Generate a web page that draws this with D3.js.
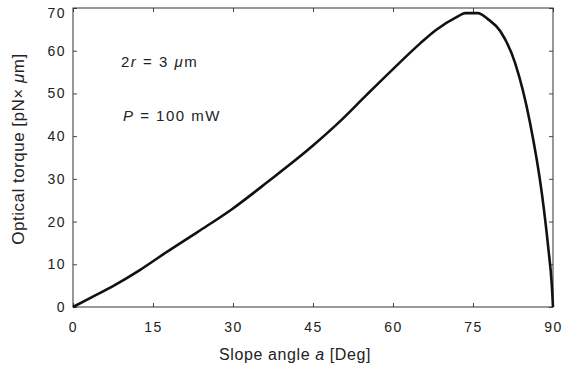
<!DOCTYPE html>
<html>
<head>
<meta charset="utf-8">
<script src="https://cdn.jsdelivr.net/npm/d3@7"></script>
<style>
  body { margin: 0; background: #fff; }
  svg text { font-family: "Liberation Sans", Arial, sans-serif; fill: #222; }
</style>
</head>
<body>
<svg width="563" height="370"></svg>
<script>
// slope angle (deg) and optical torque (pN x um)
const angles = [0, 3.2, 7.5, 12.6, 17.6, 23.4, 29.8, 36.4, 45.0, 50.0, 55.0, 60.0, 65.0, 68.0, 72.0, 73.5, 75.9, 77.8, 80.1, 82.9, 85.7, 87.9, 89.1, 89.8, 90];
const torques = [0, 2.1, 4.9, 8.7, 12.9, 17.6, 22.9, 29.2, 37.8, 43.4, 49.6, 55.7, 61.6, 64.8, 67.9, 68.8, 68.8, 67.4, 64.6, 57.1, 43.1, 26.7, 14.0, 4.7, 0];
const xTicks = [0, 15, 30, 45, 60, 75, 90];
const yTicks = [0, 10, 20, 30, 40, 50, 60, 70];

const margin = { top: 8, right: 10, bottom: 63, left: 73 },
      width = 563 - margin.left - margin.right,
      height = 370 - margin.top - margin.bottom;

const svg = d3.select('svg');
const g = svg.append('g').attr('transform', 'translate(' + margin.left + ',' + margin.top + ')');

const x = d3.scaleLinear().domain([0, 90]).range([0, width]);
const y = d3.scaleLinear().domain([0, 70]).range([height, 0]);

// frame + inward ticks on all four sides
function styleAxis(sel) {
  sel.select('.domain').remove();
  sel.selectAll('.tick line').attr('stroke', '#444').attr('stroke-width', 1);
}

g.append('g')
  .attr('transform', 'translate(0,' + height + ')')
  .call(d3.axisBottom(x).tickValues(xTicks).tickSizeInner(-4).tickPadding(15))
  .call(styleAxis)
  .selectAll('text')
    .style('font-size', '14px')
    .style('letter-spacing', '1.5px')
    .attr('fill', '#222');

g.append('g')
  .call(d3.axisTop(x).tickValues(xTicks).tickSizeInner(-4).tickFormat(''))
  .call(styleAxis);

g.append('g')
  .call(d3.axisLeft(y).tickValues(yTicks).tickSizeInner(-4).tickPadding(7))
  .call(styleAxis)
  .selectAll('text')
    .style('font-size', '14px')
    .style('letter-spacing', '1.5px')
    .attr('fill', '#222')
    .attr('dy', d => d === 70 ? '0.7em' : '0.32em');

g.append('g')
  .attr('transform', 'translate(' + width + ',0)')
  .call(d3.axisRight(y).tickValues(yTicks).tickSizeInner(-4).tickFormat(''))
  .call(styleAxis);

g.append('rect')
  .attr('width', width)
  .attr('height', height)
  .attr('fill', 'none')
  .attr('stroke', '#333')
  .attr('stroke-width', 1);

// curve
const pts = angles.map((a, i) => ({ a: a, t: torques[i] }));
g.append('path')
  .datum(pts)
  .attr('fill', 'none')
  .attr('stroke', '#111')
  .attr('stroke-width', 2.6)
  .attr('stroke-linejoin', 'round')
  .attr('d', d3.line().curve(d3.curveMonotoneX).x(d => x(d.a)).y(d => y(d.t)));

// annotations
const ann1 = g.append('text').attr('x', 48).attr('y', 59)
  .style('font-size', '15px').style('letter-spacing', '1.5px');
ann1.append('tspan').text('2');
ann1.append('tspan').style('font-style', 'italic').text('r');
ann1.append('tspan').text(' = 3 ');
ann1.append('tspan').style('font-style', 'italic').text('μ');
ann1.append('tspan').text('m');

const ann2 = g.append('text').attr('x', 50).attr('y', 113)
  .style('font-size', '15px').style('letter-spacing', '1.5px');
ann2.append('tspan').style('font-style', 'italic').text('P');
ann2.append('tspan').text(' = 100 mW');

// axis titles
const xl = svg.append('text')
  .attr('x', 295)
  .attr('y', 360)
  .style('text-anchor', 'middle')
  .style('font-size', '16px')
  .style('letter-spacing', '0.6px');
xl.append('tspan').text('Slope angle ');
xl.append('tspan').style('font-style', 'italic').text('a');
xl.append('tspan').text(' [Deg]');

const yl = svg.append('text')
  .attr('transform', 'rotate(-90)')
  .attr('x', -149)
  .attr('y', 24)
  .style('text-anchor', 'middle')
  .style('font-size', '17px')
  .style('letter-spacing', '0.5px');
yl.append('tspan').text('Optical torque [pN× ');
yl.append('tspan').style('font-style', 'italic').text('μ');
yl.append('tspan').text('m]');
</script>
</body>
</html>
